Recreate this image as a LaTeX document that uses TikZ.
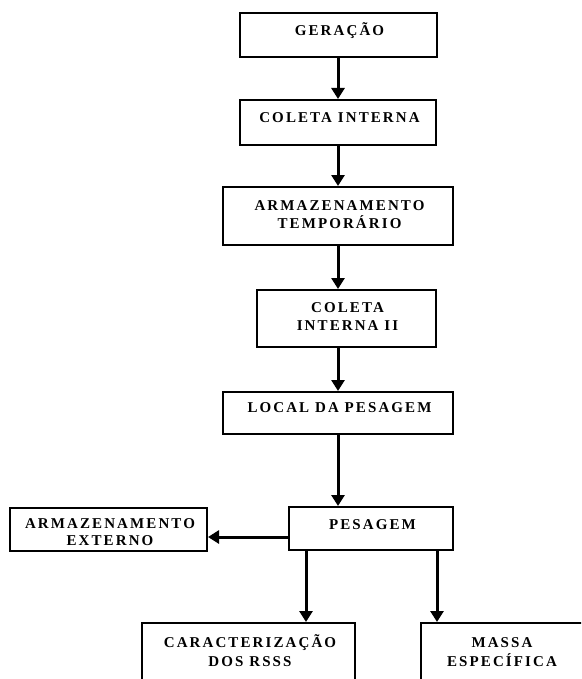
\documentclass[tikz,border=0pt]{standalone}
\usepackage{fontspec}
\setmainfont{Liberation Serif}
\newfontfamily\lblfont[LetterSpace=14,UprightFont={* Bold}]{Liberation Serif}
\usetikzlibrary{arrows.meta}
\begin{document}
\begin{tikzpicture}[x=1pt,y=1pt,
  box/.style={draw=black,line width=2pt,fill=white,rectangle,inner sep=0pt},
  lbl/.style={inner sep=0pt,anchor=base,font=\fontsize{15}{18}\lblfont},
  arr/.style={line width=3pt,-{Triangle[length=11pt,width=13pt]}}]
\useasboundingbox (0,0) rectangle (581,-679);
\clip (0,0) rectangle (581,-679);
% boxes
\node[box,minimum width=197,minimum height=44] (ger) at (338.5,-35) {};
\node[box,minimum width=196,minimum height=45] (col) at (338,-122.5) {};
\node[box,minimum width=230,minimum height=58] (arm) at (338,-216) {};
\node[box,minimum width=179,minimum height=57] (col2) at (346.5,-318.5) {};
\node[box,minimum width=230,minimum height=42] (loc) at (338,-413) {};
\node[box,minimum width=164,minimum height=43] (pes) at (371,-528.5) {};
\node[box,minimum width=197,minimum height=43] (ext) at (108.5,-529.5) {};
\node[box,minimum width=213,minimum height=90] (car) at (248.5,-668) {};
\node[box,minimum width=162,minimum height=90] (mas) at (502,-668) {};
% labels
\node[lbl] (tger) at (339.5,-36) {GERAÇÃO};
\node[lbl] (tcol) at (339.5,-123) {COLETA INTERNA};
\node[lbl] (tarm1) at (339.5,-210) {ARMAZENAMENTO};
\node[lbl] (tarm2) at (339.5,-228) {TEMPORÁRIO};
\node[lbl] (tcol21) at (347.5,-312) {COLETA};
\node[lbl] (tcol22) at (347.5,-330) {INTERNA II};
\node[lbl] (tloc) at (339.5,-412) {LOCAL DA PESAGEM};
\node[lbl] (tpes) at (372.5,-529) {PESAGEM};
\node[lbl] (text1) at (110,-528) {ARMAZENAMENTO};
\node[lbl] (text2) at (110,-545) {EXTERNO};
\node[lbl] (tcar1) at (250,-647) {CARACTERIZAÇÃO};
\node[lbl] (tcar2) at (250,-666) {DOS RSSS};
\node[lbl] (tmas1) at (502,-647) {MASSA};
\node[lbl] (tmas2) at (502,-666) {ESPECÍFICA};
% connector columns
\coordinate (xm) at (338,0);
\coordinate (xa) at (306,0);
\coordinate (xb) at (437,0);
\coordinate (ym) at (0,-537);
% connectors
\draw[arr] (ger.south -| xm) -- (col.north -| xm);
\draw[arr] (col.south -| xm) -- (arm.north -| xm);
\draw[arr] (arm.south -| xm) -- (col2.north -| xm);
\draw[arr] (col2.south -| xm) -- (loc.north -| xm);
\draw[arr] (loc.south -| xm) -- (pes.north -| xm);
\draw[arr] (pes.west |- ym) -- (ext.east |- ym);
\draw[arr] (pes.south -| xa) -- (car.north -| xa);
\draw[arr] (pes.south -| xb) -- (mas.north -| xb);
\end{tikzpicture}
\end{document}
